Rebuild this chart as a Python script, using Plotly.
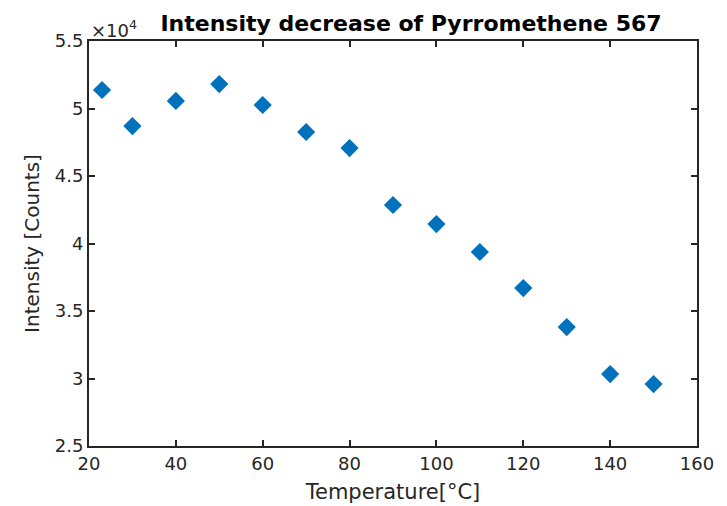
import plotly.graph_objects as go

temperature = [23, 30, 40, 50, 60, 70, 80, 90, 100, 110, 120, 130, 140, 150]
intensity = [51370, 48700, 50560, 51810, 50260, 48260, 47070, 42850, 41440, 39370, 36700, 33810, 30330, 29590]

x_ticks = [20, 40, 60, 80, 100, 120, 140, 160]
y_ticks = [25000, 30000, 35000, 40000, 45000, 50000, 55000]
y_tick_text = ["2.5", "3", "3.5", "4", "4.5", "5", "5.5"]

font_family = "DejaVu Sans, Liberation Sans, Arial, sans-serif"
axis_color = "#262626"

fig = go.Figure()
fig.add_trace(go.Scatter(
    x=temperature, y=intensity, mode="markers",
    marker=dict(symbol="diamond", size=14, color="#0072BD", line=dict(width=0)),
    showlegend=False,
))

common = dict(
    showline=True, linecolor=axis_color, linewidth=2, mirror="ticks",
    ticks="inside", ticklen=6, tickwidth=1.5, tickcolor=axis_color,
    showgrid=False, zeroline=False, automargin=False,
    tickfont=dict(family=font_family, size=18, color=axis_color),
)

fig.update_xaxes(range=[20, 160], tickvals=x_ticks, ticktext=[str(v) for v in x_ticks],
                 title=dict(text="Temperature[°C]", font=dict(family=font_family, size=21, color=axis_color), standoff=12),
                 **common)
fig.update_yaxes(range=[25000, 55000], tickvals=y_ticks, ticktext=y_tick_text,
                 title=dict(text="Intensity [Counts]", font=dict(family=font_family, size=20, color=axis_color), standoff=10),
                 **common)

fig.add_annotation(text="×10<sup>4</sup>", xref="paper", yref="paper", x=0, y=1,
                   xanchor="left", yanchor="bottom", showarrow=False, yshift=-2,
                   font=dict(family=font_family, size=18, color=axis_color))

fig.update_layout(
    width=727, height=506,
    margin=dict(l=89, r=30, t=41, b=60),
    paper_bgcolor="white", plot_bgcolor="white",
    title=dict(text="<b>Intensity decrease of Pyrromethene 567</b>", x=411/727, xanchor="center",
               y=1 - 23/506, yanchor="middle",
               font=dict(family=font_family, size=22, color="black")),
)

fig.write_html("out.html")
